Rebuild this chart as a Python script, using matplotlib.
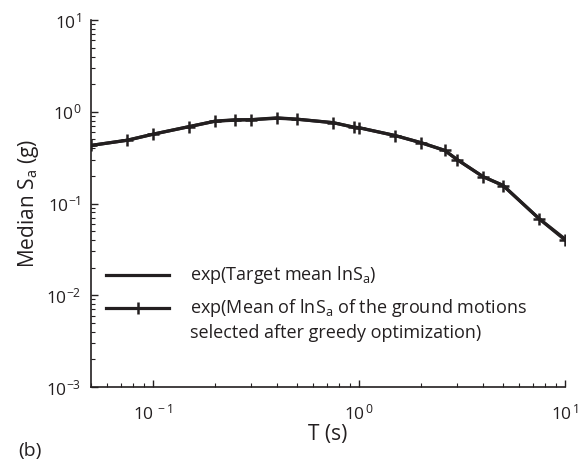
import matplotlib.pyplot as plt
from matplotlib.lines import Line2D

plt.rcParams['font.family'] = ['Open Sans', 'DejaVu Sans']
plt.rcParams['mathtext.fontset'] = 'custom'
plt.rcParams['mathtext.rm'] = 'Open Sans'
plt.rcParams['mathtext.it'] = 'Open Sans'

# periods (s) and median spectral accelerations (g)
periods = [0.05, 0.075, 0.1, 0.15, 0.2, 0.25, 0.3, 0.4, 0.5, 0.75,
           0.94, 1.0, 1.5, 2.0, 2.6, 3.0, 4.0, 5.0, 7.5, 10.0]
target_sa = [0.43, 0.49, 0.57, 0.69, 0.79, 0.81, 0.82, 0.85, 0.83, 0.76,
             0.68, 0.67, 0.55, 0.46, 0.38, 0.30, 0.196, 0.158, 0.068, 0.041]
selected_sa = [0.43, 0.49, 0.57, 0.69, 0.79, 0.82, 0.82, 0.86, 0.83, 0.76,
               0.68, 0.67, 0.55, 0.46, 0.38, 0.30, 0.196, 0.157, 0.068, 0.040]

ink = '#231f20'

fig = plt.figure(figsize=(5.88, 4.66), dpi=100)
ax = fig.add_axes([0.155, 0.1695, 0.806, 0.7875])

ax.plot(periods, target_sa, color=ink, lw=2.3)
ax.plot(periods, selected_sa, color=ink, lw=2.3, marker='+', ms=8, mew=1.8)

ax.set_xscale('log')
ax.set_yscale('log')
ax.set_xlim(0.05, 10)
ax.set_ylim(1e-3, 10)

ax.spines['top'].set_visible(False)
ax.spines['right'].set_visible(False)
for s in ['left', 'bottom']:
    ax.spines[s].set_linewidth(1.2)
    ax.spines[s].set_color(ink)

ax.tick_params(which='both', direction='in', colors=ink, labelsize=12.5)
ax.tick_params(which='major', length=5, width=1)
ax.tick_params(axis='x', which='major', pad=12)
ax.tick_params(axis='y', which='major', pad=7)
ax.tick_params(which='minor', length=3, width=0.8)

ax.set_xticks([0.1, 1, 10])
ax.set_xticklabels(['$10^{\\,-1}$', '$10^{\\,0}$', '$10^{\\,1}$'])
ax.set_yticks([1e-3, 1e-2, 1e-1, 1, 10])
ax.set_yticklabels(['$10^{-3}$', '$10^{-2}$', '$10^{-1}$', '$10^{0}$', '$10^{1}$'])

ax.set_xlabel('T (s)', fontsize=15, color=ink, labelpad=0)
ax.set_ylabel('Median S$_\\mathregular{a}$ (g)', fontsize=15, color=ink)
ax.yaxis.set_label_coords(-0.105, 0.5)

# legend drawn by hand so the marker entry lines up with its first text line
ax.add_line(Line2D([0.032, 0.165], [0.305, 0.305], transform=ax.transAxes,
                   color=ink, lw=2.3))
ax.add_line(Line2D([0.032, 0.165], [0.215, 0.215], transform=ax.transAxes,
                   color=ink, lw=2.3))
ax.add_line(Line2D([0.0985], [0.215], transform=ax.transAxes, color=ink,
                   marker='+', ms=8, mew=1.8))
ax.text(0.209, 0.305, 'exp(Target mean lnS$_\\mathregular{a}$)', transform=ax.transAxes,
        fontsize=13, va='center', color=ink)
ax.text(0.209, 0.215, 'exp(Mean of lnS$_\\mathregular{a}$ of the ground motions',
        transform=ax.transAxes, fontsize=13, va='center', color=ink)
ax.text(0.209, 0.147, 'selected after greedy optimization)', transform=ax.transAxes,
        fontsize=13, va='center', color=ink)

fig.text(0.051, 0.032, '(b)', fontsize=14, va='center', ha='center', color=ink)

plt.savefig('out.png', dpi=100)
